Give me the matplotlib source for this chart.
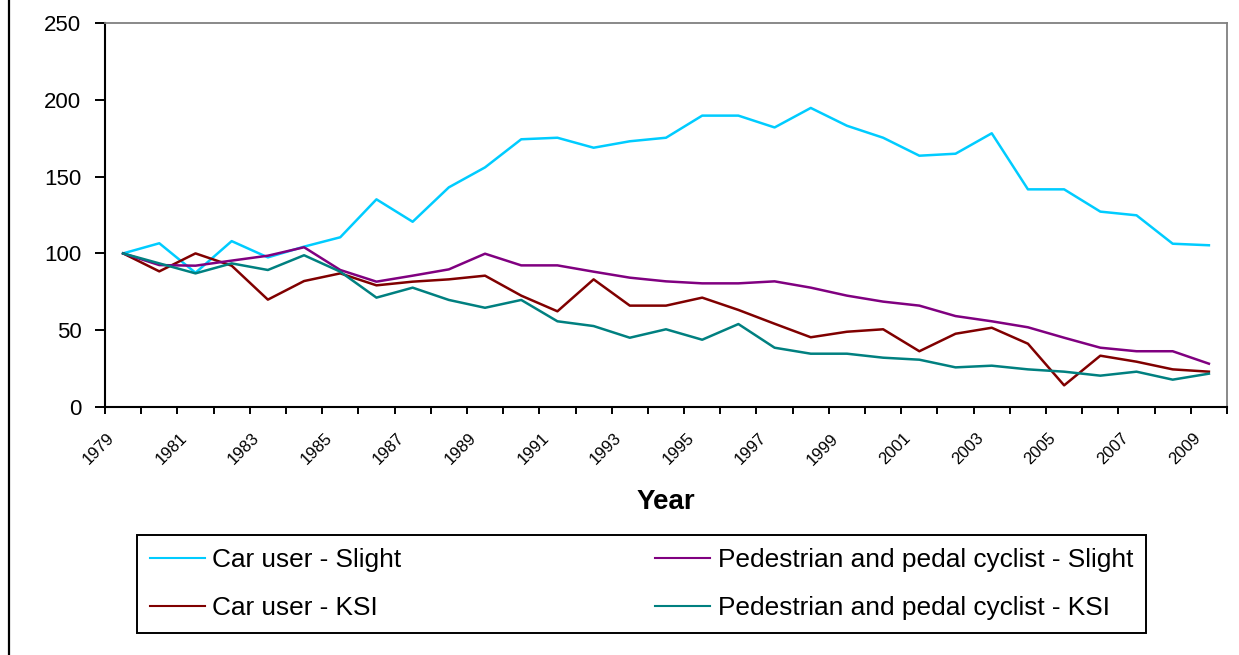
import numpy as np
import matplotlib
matplotlib.use("Agg")
import matplotlib.pyplot as plt
from matplotlib.lines import Line2D
from matplotlib.transforms import ScaledTranslation

plt.rcParams['font.family'] = ['Liberation Sans', 'DejaVu Sans']

# --- Data (index 1979 = 100) ---
years = list(range(1979, 2010))
car_slight = [100, 106.6, 87.4, 108, 97.4, 104.4, 110.5, 135.2, 120.6, 143, 156,
              174.3, 175.3, 168.8, 173, 175.3, 189.7, 189.7, 182, 194.7, 183.1,
              175.3, 163.6, 164.9, 178.2, 141.7, 141.7, 127.2, 124.8, 106.3, 105.3]
ped_slight = [100, 92.4, 92, 95.3, 98.5, 104, 89.2, 81.6, 85.5, 89.6, 99.8,
              92.2, 92.2, 88.1, 84.2, 81.8, 80.5, 80.5, 81.8, 77.7, 72.5,
              68.6, 66, 59.2, 55.8, 51.9, 45.1, 38.6, 36.3, 36.3, 28.2]
car_ksi = [100, 88.3, 100, 92, 69.9, 82, 87, 79.2, 81.6, 83.1, 85.5,
           72.5, 62.3, 83.1, 66, 66, 71.2, 63.2, 54.2, 45.4, 49,
           50.6, 36.3, 47.7, 51.6, 41.2, 14.1, 33.4, 29.5, 24.5, 23]
ped_ksi = [100, 93.5, 87, 93.5, 89.2, 98.8, 88.1, 71.2, 77.7, 69.7, 64.6,
           69.7, 55.8, 52.7, 45.1, 50.6, 43.8, 54, 38.6, 34.7, 34.7,
           32.1, 30.8, 25.8, 26.9, 24.5, 23, 20.4, 23, 17.8, 21.7]
year_labels = [str(y) for y in years[::2]]

W, H = 1239, 655
fig = plt.figure(figsize=(W / 100, H / 100), dpi=100)
ax = fig.add_axes([105 / W, 1 - 407 / H, (1227 - 105) / W, (407 - 23) / H])

lw = 1.8
ax.plot(years, car_slight, color='#00CCFF', lw=lw, label='Car user - Slight')
ax.plot(years, car_ksi, color='#800000', lw=lw, label='Car user - KSI')
ax.plot(years, ped_slight, color='#800080', lw=lw, label='Pedestrian and pedal cyclist - Slight')
ax.plot(years, ped_ksi, color='#008080', lw=lw, label='Pedestrian and pedal cyclist - KSI')

ax.set_xlim(years[0] - 0.5, years[-1] + 0.5)
ax.set_ylim(0, 250)
ax.set_yticks(np.arange(0, 251, 50))
ax.tick_params(axis='y', direction='out', length=7, width=1.4, pad=10, labelsize=16)

# category boundaries carry the tick marks, labels sit on every other category
ax.set_xticks(np.arange(years[0] - 0.5, years[-1] + 1, 1.0))
ax.tick_params(axis='x', which='major', direction='out', length=5, width=1.4, labelbottom=False)
ax.set_xticks(years[::2], minor=True)
ax.set_xticklabels(year_labels, minor=True)
ax.tick_params(axis='x', which='minor', length=0, pad=17, labelsize=12)
shift = ScaledTranslation(-0.16, 0, fig.dpi_scale_trans)
for lab in ax.get_xticklabels(minor=True):
    lab.set_rotation(45)
    lab.set_ha('right')
    lab.set_va('top')
    lab.set_rotation_mode('anchor')
    lab.set_transform(lab.get_transform() + shift)

for s in ['left', 'bottom']:
    ax.spines[s].set_color('black')
    ax.spines[s].set_linewidth(1.5)
for s in ['top', 'right']:
    ax.spines[s].set_color('#808080')
    ax.spines[s].set_linewidth(1.3)

fig.text(666 / W, 1 - 502 / H, 'Year', ha='center', va='center',
         fontsize=20, fontweight='bold')

fig.legend(loc='upper left', ncol=2, mode='expand',
           bbox_to_anchor=(137 / W, 1 - 632 / H, (1146 - 137) / W, 97 / H),
           borderaxespad=0, fontsize=18.9, frameon=True, fancybox=False,
           edgecolor='black', framealpha=1, handlelength=2.1,
           handletextpad=0.27, labelspacing=0.9, borderpad=0.5)
leg = fig.legends[0]
leg.get_frame().set_linewidth(1.4)
for h in leg.legend_handles:
    h.set_linewidth(1.5)

# left edge of the chart area frame
fig.add_artist(Line2D([8.5 / W, 8.5 / W], [0, 1], transform=fig.transFigure,
                      color='black', lw=1.6))

fig.savefig('out.png', dpi=100)
